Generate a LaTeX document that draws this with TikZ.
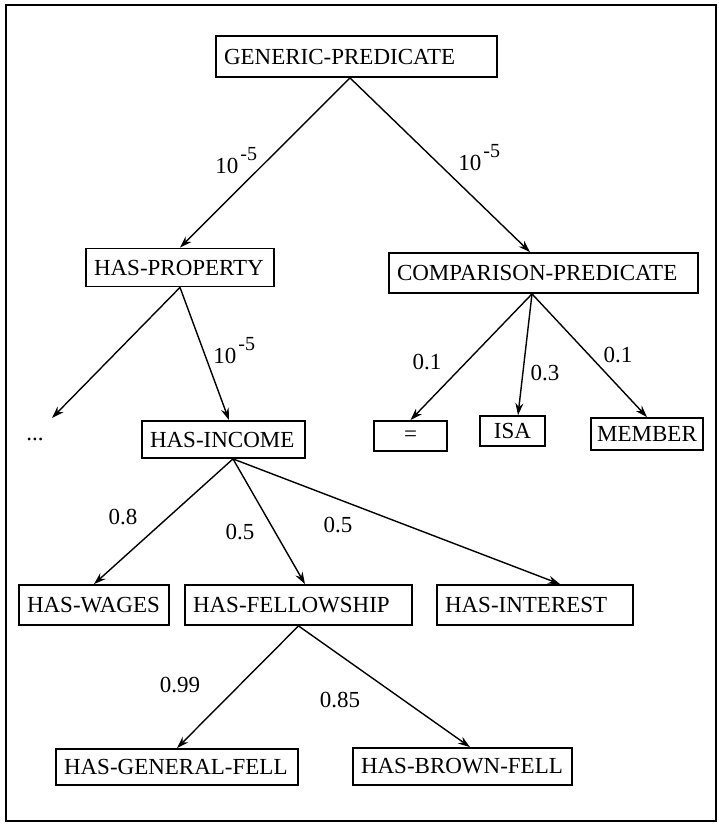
\documentclass[tikz,border=0pt]{standalone}
\usepackage{fontspec}
\setmainfont{Liberation Serif}
\usepackage{tikz}
\usetikzlibrary{arrows,arrows.meta,positioning}
\newcommand{\expo}[1]{\kern1pt\raisebox{6.5pt}{\fontsize{10}{10}\selectfont#1}}
\tikzstyle{arrow} = [line width=0.7pt,->,>={Stealth[length=6pt,width=4pt]}]
\tikzstyle{predbox} = [rectangle, draw, line width=0.9pt, inner xsep=4pt, inner ysep=2pt, minimum height=19pt, align=left, font=\fontsize{11.5}{13}\selectfont]
\tikzstyle{leafbox} = [rectangle, draw, line width=0.9pt, inner sep=2pt, minimum height=15pt, align=center, font=\fontsize{11.5}{13}\selectfont]
\tikzstyle{prob} = [inner sep=0pt, font=\fontsize{11.5}{13}\selectfont]

\begin{document}
\begin{tikzpicture}[x=0.5pt, y=-0.5pt]
\useasboundingbox (0,0) rectangle (718,825);
\draw[line width=1pt] (6,5) rectangle (716,821);

% Root
\node[predbox, text width=132.5pt, minimum height=20.5pt] (generic) at (356.5,56.5) {GENERIC-PREDICATE};

% Second level
\node[predbox, text width=86pt] (property) at (180,267.5) {HAS-PROPERTY};
\node[predbox, text width=146.5pt, minimum height=20pt] (comparison) at (543.5,273) {COMPARISON-PREDICATE};

% Comparison leaves
\node[leafbox, minimum width=36.5pt] (equal) at (410.5,436) {=};
\node[leafbox, minimum width=32.5pt] (isa) at (512.5,431) {ISA};
\node[leafbox, minimum width=56pt, minimum height=16pt] (member) at (647,434) {MEMBER};

% Property children
\node[prob] (dots) at (35,439) {...};
\coordinate (dotsend) at (52,418);
\node[predbox, text width=73.5pt, minimum height=18.5pt] (income) at (223.5,439.5) {HAS-INCOME};

% Income children
\node[predbox, text width=67pt, minimum height=20pt] (wages) at (94,605) {HAS-WAGES};
\node[predbox, text width=105.5pt, minimum height=20pt] (fellowship) at (298.5,605) {HAS-FELLOWSHIP};
\node[predbox, text width=90pt, minimum height=20pt] (interest) at (535,605) {HAS-INTEREST};

% Fellowship children
\node[predbox, text width=113pt, minimum height=18pt] (general) at (177,767) {HAS-GENERAL-FELL};
\node[predbox, text width=101.5pt, minimum height=18.5pt] (brown) at (462.5,766.5) {HAS-BROWN-FELL};

% Weights
\node[prob, anchor=base west] (w1) at (215,173) {10\expo{-5}};
\node[prob, anchor=base west] (w2) at (458,170) {10\expo{-5}};
\node[prob, anchor=base west] (w3) at (213,363) {10\expo{-5}};
\node[prob] (p1) at (427,362) {0.1};
\node[prob] (p2) at (545,373) {0.3};
\node[prob] (p3) at (618,355) {0.1};
\node[prob] (p4) at (123,517) {0.8};
\node[prob] (p5) at (240,532) {0.5};
\node[prob] (p6) at (338,525) {0.5};
\node[prob] (p7) at (180,685) {0.99};
\node[prob] (p8) at (340,700) {0.85};

\draw[arrow] ([xshift=-3.25pt]generic.south) -- (property.north);
\draw[arrow] ([xshift=-3.25pt]generic.south) -- ([xshift=-6.75pt]comparison.north);
\draw[arrow] (property.south) -- (dotsend);
\draw[arrow] (property.south) -- ([xshift=2.75pt]income.north);
\draw[arrow] ([xshift=-5.75pt]comparison.south) -- (equal.north);
\draw[arrow] ([xshift=-5.75pt]comparison.south) -- ([xshift=2.75pt]isa.north);
\draw[arrow] ([xshift=-5.75pt]comparison.south) -- (member.north);
\draw[arrow] ([xshift=4.75pt]income.south) -- (wages.north);
\draw[arrow] ([xshift=4.75pt]income.south) -- ([xshift=3.25pt]fellowship.north);
\draw[arrow] ([xshift=4.75pt]income.south) -- ([xshift=12.5pt]interest.north);
\draw[arrow] (fellowship.south) -- (general.north);
\draw[arrow] (fellowship.south) -- ([xshift=3.75pt]brown.north);
\end{tikzpicture}
\end{document}
